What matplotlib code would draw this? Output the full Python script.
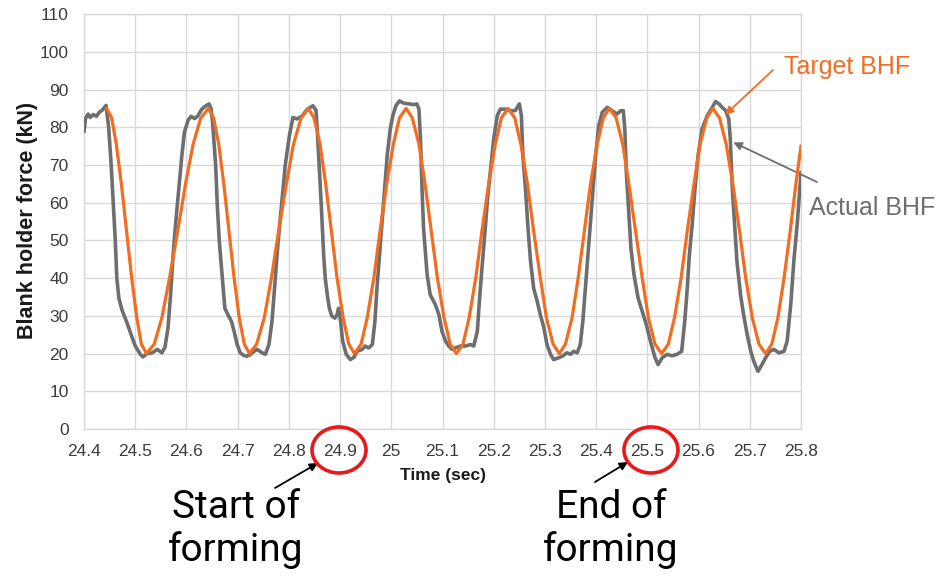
import matplotlib
matplotlib.use("Agg")
import matplotlib.pyplot as plt
from matplotlib.patches import Ellipse

# Target blank holder force (kN) against time (s)
target_t = [
    24.444, 24.454, 24.463, 24.473, 24.483, 24.493, 24.503, 24.512, 24.522,
    24.537, 24.552, 24.567, 24.583, 24.598, 24.613, 24.628, 24.643,
    24.653, 24.663, 24.673, 24.683, 24.693, 24.703, 24.713, 24.723,
    24.737, 24.752, 24.766, 24.780, 24.795, 24.809, 24.824, 24.838,
    24.849, 24.861, 24.872, 24.883, 24.894, 24.906, 24.917, 24.928,
    24.941, 24.953, 24.966, 24.978, 24.991, 25.004, 25.016, 25.029,
    25.041, 25.054, 25.066, 25.078, 25.090, 25.103, 25.115, 25.127,
    25.140, 25.152, 25.165, 25.177, 25.190, 25.203, 25.215, 25.228,
    25.241, 25.253, 25.266, 25.278, 25.291, 25.303, 25.316, 25.328,
    25.340, 25.353, 25.365, 25.377, 25.389, 25.402, 25.414, 25.426,
    25.439, 25.452, 25.464, 25.477, 25.490, 25.502, 25.515, 25.528,
    25.541, 25.553, 25.566, 25.578, 25.591, 25.603, 25.616, 25.628,
    25.641, 25.654, 25.667, 25.680, 25.692, 25.705, 25.718, 25.731,
    25.743, 25.755, 25.767, 25.779, 25.790, 25.800,
]
target_kn = [
    85, 82.5, 75.5, 64.9, 52.5, 40.1, 29.5, 22.5, 20,
    22.5, 29.5, 40.1, 52.5, 64.9, 75.5, 82.5, 85,
    82.5, 75.5, 64.9, 52.5, 40.1, 29.5, 22.5, 20,
    22.5, 29.5, 40.1, 52.5, 64.9, 75.5, 82.5, 85,
    82.5, 75.5, 64.9, 52.5, 40.1, 29.5, 22.5, 20,
    22.5, 29.5, 40.1, 52.5, 64.9, 75.5, 82.5, 85,
    82.5, 75.5, 64.9, 52.5, 40.1, 29.5, 22.5, 20,
    22.5, 29.5, 40.1, 52.5, 64.9, 75.5, 82.5, 85,
    82.5, 75.5, 64.9, 52.5, 40.1, 29.5, 22.5, 20,
    22.5, 29.5, 40.1, 52.5, 64.9, 75.5, 82.5, 85,
    82.5, 75.5, 64.9, 52.5, 40.1, 29.5, 22.5, 20,
    22.5, 29.5, 40.1, 52.5, 64.9, 75.5, 82.5, 85,
    82.5, 75.5, 64.9, 52.5, 40.1, 29.5, 22.5, 20,
    22.5, 29.5, 40.1, 52.5, 64.9, 75.0,
]

# Measured blank holder force (kN) against time (s)
actual_t = [
    24.400, 24.403, 24.408, 24.412, 24.418, 24.424, 24.430, 24.436, 24.443,
    24.448, 24.453, 24.457, 24.461, 24.464, 24.468, 24.474, 24.484, 24.492,
    24.500, 24.510, 24.515, 24.523, 24.533, 24.543, 24.552, 24.558, 24.564,
    24.569, 24.573, 24.578, 24.585, 24.591, 24.596, 24.603, 24.609, 24.616,
    24.622, 24.630, 24.638, 24.644, 24.648, 24.651, 24.657, 24.660, 24.664,
    24.670, 24.675, 24.681, 24.688, 24.693, 24.699, 24.705, 24.712, 24.718,
    24.725, 24.732, 24.738, 24.748, 24.754, 24.761, 24.767, 24.772, 24.779,
    24.786, 24.793, 24.801, 24.808, 24.816, 24.826, 24.836, 24.847, 24.853,
    24.856, 24.860, 24.863, 24.866, 24.868, 24.871, 24.875, 24.879, 24.884,
    24.890, 24.894, 24.897, 24.901, 24.905, 24.912, 24.920, 24.927, 24.933,
    24.943, 24.949, 24.956, 24.963, 24.968, 24.972, 24.977, 24.982, 24.987,
    24.992, 24.998, 25.003, 25.009, 25.016, 25.024, 25.034, 25.044, 25.050,
    25.054, 25.057, 25.060, 25.063, 25.070, 25.076, 25.086, 25.093, 25.099,
    25.106, 25.112, 25.119, 25.125, 25.135, 25.145, 25.155, 25.161, 25.168,
    25.172, 25.177, 25.183, 25.188, 25.194, 25.200, 25.207, 25.213, 25.223,
    25.233, 25.242, 25.250, 25.254, 25.257, 25.262, 25.267, 25.272, 25.278,
    25.285, 25.291, 25.298, 25.304, 25.311, 25.317, 25.327, 25.334, 25.343,
    25.350, 25.356, 25.363, 25.369, 25.374, 25.379, 25.384, 25.389, 25.394,
    25.399, 25.405, 25.412, 25.422, 25.431, 25.441, 25.448, 25.453, 25.456,
    25.459, 25.464, 25.468, 25.474, 25.482, 25.490, 25.498, 25.506, 25.515,
    25.521, 25.529, 25.539, 25.548, 25.558, 25.567, 25.573, 25.578, 25.582,
    25.588, 25.593, 25.599, 25.607, 25.617, 25.627, 25.633, 25.640, 25.646,
    25.653, 25.659, 25.662, 25.666, 25.671, 25.675, 25.682, 25.688, 25.695,
    25.702, 25.708, 25.716, 25.724, 25.731, 25.739, 25.747, 25.757, 25.767,
    25.773, 25.780, 25.786, 25.793, 25.800,
]
actual_kn = [
    79.0, 82.4, 83.5, 82.6, 83.4, 82.9, 84.0, 84.6, 85.8,
    80.0, 70.0, 60.0, 50.0, 40.0, 34.7, 31.6, 28.1, 25.0,
    22.0, 19.8, 19.1, 20.0, 20.2, 21.1, 20.2, 21.7, 26.8,
    35.6, 44.4, 53.2, 63.7, 72.5, 78.7, 81.8, 82.9, 82.3,
    83.0, 84.8, 85.7, 86.2, 85.0, 81.3, 70.0, 60.0, 50.0,
    40.0, 32.0, 30.3, 28.5, 25.9, 22.4, 20.2, 19.5, 19.3,
    19.8, 20.6, 21.1, 20.2, 19.8, 22.4, 28.5, 37.3, 49.7,
    60.0, 70.0, 77.8, 82.6, 82.2, 83.0, 84.8, 85.7, 84.5,
    78.0, 68.0, 60.0, 52.0, 46.1, 40.0, 35.6, 32.0, 29.9,
    29.4, 30.3, 32.0, 28.5, 23.3, 19.8, 18.4, 19.0, 20.6,
    21.1, 22.0, 21.5, 22.4, 28.5, 37.3, 46.1, 54.9, 63.7,
    72.5, 79.6, 83.1, 85.7, 87.0, 86.4, 86.2, 86.0, 86.2,
    84.8, 76.9, 63.7, 53.2, 40.9, 35.6, 33.0, 30.3, 25.9,
    23.3, 22.0, 21.1, 21.5, 22.0, 22.0, 22.4, 22.0, 25.9,
    33.8, 42.6, 52.3, 61.1, 69.0, 76.9, 83.1, 84.8, 84.8,
    84.4, 84.4, 86.2, 83.1, 72.5, 63.7, 53.2, 44.4, 37.3,
    33.8, 30.3, 26.8, 22.4, 19.8, 18.4, 18.9, 19.3, 20.2,
    19.8, 20.6, 20.2, 22.4, 28.5, 37.3, 46.1, 54.9, 63.7,
    72.5, 80.4, 84.0, 85.3, 84.4, 83.5, 84.4, 84.4, 79.6,
    68.1, 56.7, 47.9, 40.9, 34.7, 31.2, 27.7, 23.3, 18.9,
    17.1, 18.9, 19.8, 19.4, 19.8, 20.6, 28.5, 37.3, 46.1,
    54.9, 63.7, 72.5, 79.6, 83.1, 85.3, 86.8, 86.2, 85.3,
    84.4, 82.2, 76.9, 63.7, 53.2, 44.4, 35.6, 30.3, 25.0,
    20.6, 17.9, 15.3, 17.1, 18.9, 20.6, 21.1, 20.2, 20.6,
    23.3, 32.9, 44.4, 54.9, 68.0,
]

x_ticks = [24.4, 24.5, 24.6, 24.7, 24.8, 24.9, 25.0, 25.1,
           25.2, 25.3, 25.4, 25.5, 25.6, 25.7, 25.8]
x_tick_labels = ["24.4", "24.5", "24.6", "24.7", "24.8", "24.9", "25", "25.1",
                 "25.2", "25.3", "25.4", "25.5", "25.6", "25.7", "25.8"]
y_ticks = [0, 10, 20, 30, 40, 50, 60, 70, 80, 90, 100, 110]

ORANGE = "#f26c21"
GRAY = "#6e6e6e"
GRID = "#d9d9d9"
SANS = ["Liberation Sans", "DejaVu Sans"]

W, H = 939, 577


def px(x, y):
    # pixel position (from top-left) -> figure fraction
    return (x / W, 1 - y / H)


fig = plt.figure(figsize=(W / 100, H / 100), dpi=100)
ax = fig.add_axes([0.0895, 0.2565, 0.7635, 0.719])

ax.plot(actual_t, actual_kn, color=GRAY, linewidth=2.6, solid_joinstyle="round", zorder=3)
ax.plot(target_t, target_kn, color=ORANGE, linewidth=2.3, solid_joinstyle="round", zorder=4)

ax.set_xlim(24.4, 25.8)
ax.set_ylim(0, 110)
ax.set_xticks(x_ticks)
ax.set_xticklabels(x_tick_labels)
ax.set_yticks(y_ticks)
ax.grid(True, color=GRID, linewidth=1.0)
ax.set_axisbelow(True)
for side in ax.spines.values():
    side.set_color(GRID)
    side.set_linewidth(1.0)
ax.tick_params(length=0, pad=11, labelcolor="#3c3c3c")
for lab in ax.get_xticklabels() + ax.get_yticklabels():
    lab.set_family(SANS)
    lab.set_fontsize(12.5)

ax.set_xlabel("Time (sec)", family=SANS, fontsize=12.5, fontweight="bold",
              color="#1a1a1a", labelpad=6)
fig.text(*px(28, 220), "Blank holder force (kN)", rotation=90, ha="center", va="center",
         family=SANS, fontsize=15.5, fontweight="bold", color="#1a1a1a")

# series call-outs
fig.text(*px(784, 74), "Target BHF", family=SANS, fontsize=18, color=ORANGE,
         ha="left", va="baseline")
ax.annotate("", xy=(25.652, 83.3), xycoords="data", xytext=px(773, 70),
            textcoords="figure fraction",
            arrowprops=dict(arrowstyle="-|>", color=ORANGE, lw=1.3, mutation_scale=12,
                            shrinkA=0, shrinkB=0))
fig.text(*px(809, 215), "Actual BHF", family=SANS, fontsize=18, color=GRAY,
         ha="left", va="baseline")
ax.annotate("", xy=(25.668, 76.0), xycoords="data", xytext=px(817, 182),
            textcoords="figure fraction",
            arrowprops=dict(arrowstyle="-|>", color=GRAY, lw=1.3, mutation_scale=12,
                            shrinkA=0, shrinkB=0))

# forming window markers on the time axis
for cx in (339, 651):
    fig.add_artist(Ellipse(px(cx, 450), 54 / W, 46 / H, transform=fig.transFigure,
                           fill=False, edgecolor="#e8191c", linewidth=2.6))

fig.text(*px(236, 529), "Start of\nforming", family=["Roboto", "DejaVu Sans"],
         fontsize=28, ha="center", va="center", linespacing=1.2, color="black")
fig.text(*px(611, 529), "End of\nforming", family=["Roboto", "DejaVu Sans"],
         fontsize=28, ha="center", va="center", linespacing=1.2, color="black")
ax.annotate("", xy=px(318, 463), xycoords="figure fraction", xytext=px(275, 488),
            textcoords="figure fraction",
            arrowprops=dict(arrowstyle="-|>", color="black", lw=1.3, mutation_scale=12,
                            shrinkA=0, shrinkB=0))
ax.annotate("", xy=px(628, 462), xycoords="figure fraction", xytext=px(595, 482),
            textcoords="figure fraction",
            arrowprops=dict(arrowstyle="-|>", color="black", lw=1.3, mutation_scale=12,
                            shrinkA=0, shrinkB=0))

fig.savefig("out.png", dpi=100)
